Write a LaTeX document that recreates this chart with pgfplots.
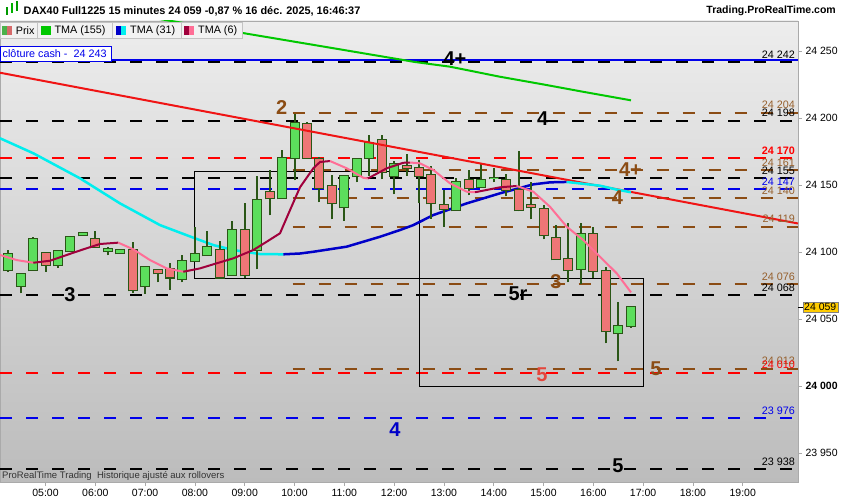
\documentclass[border=0pt]{standalone}
\usepackage{pgfplots}
\pgfplotsset{compat=1.18}
\usepackage{pgfplotstable}
\usepackage{fontspec}
\setmainfont{Liberation Sans}

\definecolor{bgt}{RGB}{237,237,237}
\definecolor{bgb}{RGB}{188,188,188}
\definecolor{axgray}{RGB}{170,170,170}
\definecolor{brn}{RGB}{139,76,20}
\definecolor{brnt}{RGB}{150,96,45}
\definecolor{tred}{RGB}{240,20,20}
\definecolor{dred}{RGB}{255,0,0}
\definecolor{lblue}{RGB}{0,0,235}
\definecolor{tgreen}{RGB}{0,200,0}
\definecolor{tblue}{RGB}{0,0,200}
\definecolor{tcyan}{RGB}{0,238,238}
\definecolor{tdark}{RGB}{160,0,60}
\definecolor{tpink}{RGB}{255,110,150}
\definecolor{cgreen}{RGB}{92,222,92}
\definecolor{cred}{RGB}{238,118,118}
\definecolor{cout}{RGB}{42,86,22}
\definecolor{lgbg}{RGB}{242,242,242}
\definecolor{lgbd}{RGB}{195,195,195}
\definecolor{pricey}{RGB}{255,204,0}

\pgfplotstableread{
t o h l c
4.25 24086.3 24101.5 24085.0 24098.3
4.50 24074.9 24083.4 24069.2 24083.4
4.75 24086.3 24111.2 24086.3 24109.5
5.25 24090.0 24100.5 24088.3 24100.5
5.50 24100.5 24111.0 24100.5 24111.0
5.75 24112.5 24114.0 24112.5 24114.0
6.25 24100.5 24103.7 24097.5 24102.0
6.50 24099.0 24101.3 24099.0 24101.3
7.00 24074.4 24088.6 24069.0 24088.6
7.75 24079.6 24097.5 24077.4 24093.0
8.00 24093.0 24118.7 24093.0 24098.3
8.25 24097.5 24115.5 24097.5 24103.5
8.75 24082.6 24123.0 24082.6 24116.2
9.25 24101.3 24156.5 24087.0 24138.6
9.75 24140.0 24176.0 24140.0 24170.0
10.00 24170.0 24202.8 24153.5 24196.0
11.00 24133.4 24156.5 24123.0 24156.5
11.25 24156.5 24169.2 24152.0 24169.2
11.50 24170.0 24187.5 24157.0 24181.0
12.00 24157.0 24168.0 24143.0 24165.5
13.25 24131.1 24155.0 24131.1 24152.0
13.75 24148.3 24165.4 24148.3 24153.5
14.00 24155.0 24162.5 24152.0 24155.5
15.75 24087.0 24121.4 24076.0 24113.2
16.50 24039.3 24062.5 24018.4 24044.6
16.75 24044.6 24059.0 24043.5 24059.0
}\greentab

\pgfplotstableread{
t o h l c
5.00 24099.0 24099.0 24085.3 24090.0
6.00 24109.5 24115.7 24103.5 24103.5
6.75 24101.3 24107.2 24069.2 24071.4
7.25 24086.3 24086.3 24077.4 24084.0
7.50 24087.0 24091.6 24072.0 24081.0
8.50 24101.3 24108.0 24081.0 24081.0
9.00 24116.2 24136.3 24080.4 24082.6
9.50 24144.6 24161.0 24127.4 24140.0
10.25 24195.3 24196.8 24170.0 24170.0
10.50 24169.2 24170.7 24137.0 24147.5
10.75 24149.0 24157.2 24124.4 24136.3
11.75 24183.4 24187.5 24154.3 24160.0
12.25 24164.0 24173.0 24157.0 24162.5
12.50 24162.5 24168.4 24136.3 24157.0
12.75 24157.2 24164.0 24125.0 24136.3
13.00 24134.9 24146.0 24119.0 24131.9
13.50 24153.5 24161.0 24142.3 24147.5
14.25 24153.5 24158.0 24141.6 24146.0
14.50 24146.0 24175.4 24130.4 24131.0
14.75 24134.9 24152.0 24124.4 24133.4
15.00 24131.9 24134.9 24109.5 24112.5
15.25 24110.2 24120.0 24094.5 24094.5
15.50 24094.5 24121.4 24077.4 24086.3
16.00 24113.2 24119.0 24080.4 24085.6
16.25 24085.6 24088.6 24031.9 24040.8
}\redtab

\pgfplotsset{hl/.style={line width=2pt, dash pattern=on 12pt off 14pt, forget plot},
  ml/.style={line width=2pt, forget plot},
  cbar/.style 2 args={draw=none, mark=none, forget plot, error bars/.cd, y dir=plus, y explicit, error mark=none, error bar style={draw=#1, line width=#2, solid}}}
\tikzset{lvl/.style={anchor=east, yshift=7.5pt, inner sep=0pt, font=\fontsize{10.8}{12}\selectfont},
  big/.style={inner sep=0pt, font=\bfseries\fontsize{20}{22}\selectfont}}

\begin{document}
\begin{tikzpicture}[x=1pt,y=1pt]
\useasboundingbox (0,0) rectangle (850,500);
\begin{axis}[at={(0pt,18pt)}, anchor=south west, scale only axis,
  width=798pt, height=461pt,
  xmin=4.0863, xmax=20.1104, ymin=23928.4, ymax=24272.4,
  scaled x ticks=false, scaled y ticks=false,
  axis background/.style={top color=bgt, bottom color=bgb},
  axis line style={draw=axgray, line width=0.8pt},
  ytick pos=right, xtick pos=bottom, tick align=outside, major tick length=4pt,
  tick style={draw=axgray, line width=0.8pt},
  ytick={23950,24000,24050,24100,24150,24200,24250},
  yticklabels={23 950,\textbf{24 000},24 050,24 100,24 150,24 200,24 250},
  xtick={5,6,7,8,9,10,11,12,13,14,15,16,17,18,19},
  xticklabels={05:00,06:00,07:00,08:00,09:00,10:00,11:00,12:00,13:00,14:00,15:00,16:00,17:00,18:00,19:00},
  yticklabel style={font=\fontsize{10.5}{12}\selectfont, anchor=west, xshift=0pt},
  xticklabel style={font=\fontsize{10.5}{12}\selectfont},
]
% horizontal levels
\addplot[hl, draw=black] coordinates {(4.0863,24241.5) (20.1104,24241.5)};
\addplot[ml, draw=lblue, line width=1.8pt] coordinates {(4.0863,24243.2) (20.1104,24243.2)};
\addplot[hl, draw=brn] coordinates {(9.96,24204) (20.1104,24204)};
\addplot[hl, draw=black] coordinates {(4.0863,24198) (20.1104,24198)};
\addplot[hl, draw=dred] coordinates {(4.0863,24170) (20.1104,24170)};
\addplot[hl, draw=brn] coordinates {(9.96,24161) (20.1104,24161)};
\addplot[hl, draw=black] coordinates {(4.0863,24155) (20.1104,24155)};
\addplot[hl, draw=lblue] coordinates {(4.0863,24147) (20.1104,24147)};
\addplot[hl, draw=brn] coordinates {(9.96,24140) (20.1104,24140)};
\addplot[hl, draw=brn] coordinates {(9.96,24119) (20.1104,24119)};
\addplot[hl, draw=brn] coordinates {(9.96,24076) (20.1104,24076)};
\addplot[hl, draw=black] coordinates {(4.0863,24068) (20.1104,24068)};
\addplot[hl, draw=brn] coordinates {(9.96,24013) (20.1104,24013)};
\addplot[hl, draw=dred] coordinates {(4.0863,24010) (20.1104,24010)};
\addplot[hl, draw=lblue] coordinates {(4.0863,23976) (20.1104,23976)};
\addplot[hl, draw=black] coordinates {(4.0863,23938) (20.1104,23938)};
% boxes
\addplot[ml, draw=black, line width=1pt] coordinates {(7.988,24080.4) (12.506,24080.4) (12.506,24160.4) (7.988,24160.4) (7.988,24080.4)};
\addplot[ml, draw=black, line width=1pt] coordinates {(12.506,24000) (17.004,24000) (17.004,24080.4) (12.506,24080.4) (12.506,24000)};
% TMA 155
\addplot[ml, draw=tgreen] coordinates {(7.098,24275.1) (8.966,24263.4) (10.713,24252.5) (12.420,24241.8) (13.122,24238.3) (14.126,24230.8) (14.990,24225.1) (15.793,24219.6) (16.757,24213.2)};
% TMA 31
\addplot[ml, draw=tcyan, line width=2.5pt] coordinates {(4.086,24184.9) (4.755,24173.7) (5.693,24155.0) (6.496,24136.3) (7.299,24120.1) (7.968,24110.7) (8.370,24105.2) (8.771,24101.5) (9.307,24098.5) (9.775,24098.3)};
\addplot[ml, draw=tblue, line width=2.5pt] coordinates {(9.775,24098.3) (10.110,24098.9) (10.378,24100.2) (11.048,24104.0) (11.717,24111.4) (12.118,24116.4) (12.386,24120.1) (12.787,24127.6) (13.458,24136.3) (14.126,24143.8) (14.795,24150.5) (15.130,24152.0) (15.466,24152.3)};
% candles: wicks
\addplot[cbar={cout}{2pt}] table[x=t, y=l, y error plus expr=\thisrow{h}-\thisrow{l}] {\greentab};
\addplot[cbar={cout}{2pt}] table[x=t, y=l, y error plus expr=\thisrow{h}-\thisrow{l}] {\redtab};
% bodies outline
\addplot[cbar={cout}{10pt}] table[x=t, y expr=\thisrow{o}-0.75, y error plus expr=\thisrow{c}-\thisrow{o}+1.5] {\greentab};
\addplot[cbar={cout}{10pt}] table[x=t, y expr=\thisrow{c}-0.75, y error plus expr=\thisrow{o}-\thisrow{c}+1.5] {\redtab};
% bodies fill
\addplot[cbar={cgreen}{8pt}] table[x=t, y=o, y error plus expr=\thisrow{c}-\thisrow{o}] {\greentab};
\addplot[cbar={cred}{8pt}] table[x=t, y=c, y error plus expr=\thisrow{o}-\thisrow{c}] {\redtab};
% trend line
\addplot[ml, draw=tred] coordinates {(4.0863,24233.8) (20.1104,24121.3)};
\addplot[ml, draw=tcyan, line width=2.5pt] coordinates {(15.466,24152.3) (16.134,24149.5) (16.470,24146.6) (16.757,24144.6)};
% TMA 6
\addplot[ml, draw=tpink] coordinates {(4.086,24097.8) (4.422,24094.0) (4.755,24092.0)};
\addplot[ml, draw=tdark] coordinates {(4.755,24092.0) (5.090,24093.5) (5.426,24097.8) (5.759,24102.0) (6.094,24106.0) (6.462,24107.0)};
\addplot[ml, draw=tpink] coordinates {(6.462,24107.0) (6.763,24102.0) (7.098,24094.0) (7.434,24087.8) (7.767,24085.3)};
\addplot[ml, draw=tdark] coordinates {(7.767,24085.3) (8.102,24087.8) (8.438,24091.6) (8.771,24095.3) (9.173,24101.5) (9.442,24107.7) (9.709,24114.0) (9.910,24131.3) (10.110,24148.3) (10.378,24162.5) (10.512,24167.2) (10.713,24167.9)};
\addplot[ml, draw=tpink] coordinates {(10.713,24167.9) (11.048,24162.5) (11.382,24155.4) (11.476,24154.9)};
\addplot[ml, draw=tdark] coordinates {(11.476,24154.9) (11.852,24162.5) (12.185,24166.6) (12.319,24166.8)};
\addplot[ml, draw=tpink] coordinates {(12.319,24166.8) (12.520,24166.2) (12.787,24161.2) (13.122,24151.3) (13.458,24145.0) (13.625,24144.6)};
\addplot[ml, draw=tdark] coordinates {(13.625,24144.6) (14.126,24148.3) (14.462,24149.3)};
\addplot[ml, draw=tpink] coordinates {(14.462,24149.3) (14.795,24145.0) (15.130,24133.8) (15.466,24118.9) (15.799,24108.9) (16.134,24096.5) (16.470,24084.1) (16.757,24069.9)};
% level labels
\node[lvl, text=black] at (axis cs:20.05,24242) {24 242};
\node[lvl, text=brnt] at (axis cs:20.05,24204) {24 204};
\node[lvl, text=black] at (axis cs:20.05,24198) {24 198};
\node[lvl, text=dred, font=\bfseries\fontsize{10.8}{12}\selectfont] at (axis cs:20.05,24170) {24 170};
\node[lvl, text=brnt] at (axis cs:20.05,24161) {24 161};
\node[lvl, text=black] at (axis cs:20.05,24155) {24 155};
\node[lvl, text=lblue] at (axis cs:20.05,24147) {24 147};
\node[lvl, text=brnt] at (axis cs:20.05,24140) {24 140};
\node[lvl, text=brnt] at (axis cs:20.05,24119) {24 119};
\node[lvl, text=brnt] at (axis cs:20.05,24076) {24 076};
\node[lvl, text=black] at (axis cs:20.05,24068) {24 068};
\node[lvl, text=brnt] at (axis cs:20.05,24013) {24 013};
\node[lvl, text=dred] at (axis cs:20.05,24010) {24 010};
\node[lvl, text=lblue] at (axis cs:20.05,23976) {23 976};
\node[lvl, text=black] at (axis cs:20.05,23938) {23 938};
% wave labels
\node[big, text=black] at (axis cs:13.223,24244.6) {4+};
\node[big, text=brn] at (axis cs:9.743,24207.8) {2};
\node[big, text=black] at (axis cs:14.984,24199.4) {4};
\node[big, text=brn] at (axis cs:16.747,24161.2) {4+};
\node[big, text=brn] at (axis cs:16.486,24140.7) {4};
\node[big, text=black] at (axis cs:5.492,24067.9) {3};
\node[big, text=black] at (axis cs:14.488,24068.7) {5r};
\node[big, text=brn] at (axis cs:15.251,24078.0) {3};
\node[big, text={rgb,255:red,228;green,70;blue,60}] at (axis cs:14.970,24008.2) {5};
\node[big, text=brn] at (axis cs:17.259,24012.7) {5};
\node[big, text=tblue] at (axis cs:12.018,23967.2) {4};
\node[big, text=black] at (axis cs:16.496,23940.3) {5};
\end{axis}
% header
\fill[green!60!black] (6,485) rectangle (8,493);
\fill[green!70!black] (11,487) rectangle (13,497);
\fill[green!60!black] (16,489) rectangle (18,499);
\node[anchor=west, inner sep=0pt, font=\bfseries\fontsize{10.9}{12}\selectfont] at (23.5,489) {DAX40 Full1225 15 minutes 24 059 -0,87 \% 16 déc. 2025, 16:46:37};
\node[anchor=east, inner sep=0pt, font=\bfseries\fontsize{10.5}{12}\selectfont] at (836,489) {Trading.ProRealTime.com};
% legend row
\draw[fill=lgbg, draw=lgbd] (0,461.7) rectangle (37,477.7);
\draw[fill=lgbg, draw=lgbd] (37,461.7) rectangle (112,477.7);
\draw[fill=lgbg, draw=lgbd] (112,461.7) rectangle (181,477.7);
\draw[fill=lgbg, draw=lgbd] (181,461.7) rectangle (242,477.7);
\fill[cgreen!80!black] (2,465) rectangle (7,474); \fill[cred!90!black] (7,465) rectangle (12.3,474);
\fill[tgreen] (40.7,465) rectangle (50.7,474);
\fill[tblue] (116,465) rectangle (121,474); \fill[tcyan] (121,465) rectangle (126,474);
\fill[tdark] (184,465) rectangle (189,474); \fill[tpink] (189,465) rectangle (194,474);
\node[anchor=west, inner sep=0pt, font=\fontsize{10.8}{12}\selectfont] at (15.7,469.7) {Prix};
\node[anchor=west, inner sep=0pt, font=\fontsize{10.8}{12}\selectfont] at (54.3,469.7) {TMA (155)};
\node[anchor=west, inner sep=0pt, font=\fontsize{10.8}{12}\selectfont] at (130,469.7) {TMA (31)};
\node[anchor=west, inner sep=0pt, font=\fontsize{10.8}{12}\selectfont] at (198,469.7) {TMA (6)};
% cloture cash
\draw[fill=white, draw=lblue, line width=0.8pt] (0.4,439) rectangle (111,454);
\node[anchor=west, inner sep=0pt, text=lblue, font=\fontsize{10.8}{12}\selectfont] at (2.5,446.5) {clôture cash -\ \ 24 243};
% footer note
\node[anchor=west, inner sep=0pt, text=black!80, font=\fontsize{9.5}{11}\selectfont] at (2,24) {ProRealTime Trading\ \ Historique ajusté aux rollovers};
% price tag
\draw[black, line width=0.8pt] (798,193) -- (803,193);
\node[anchor=west, fill=pricey, draw=gray, inner sep=1.5pt, font=\fontsize{10.5}{12}\selectfont] at (802.5,193) {24 059};
\end{tikzpicture}
\end{document}
